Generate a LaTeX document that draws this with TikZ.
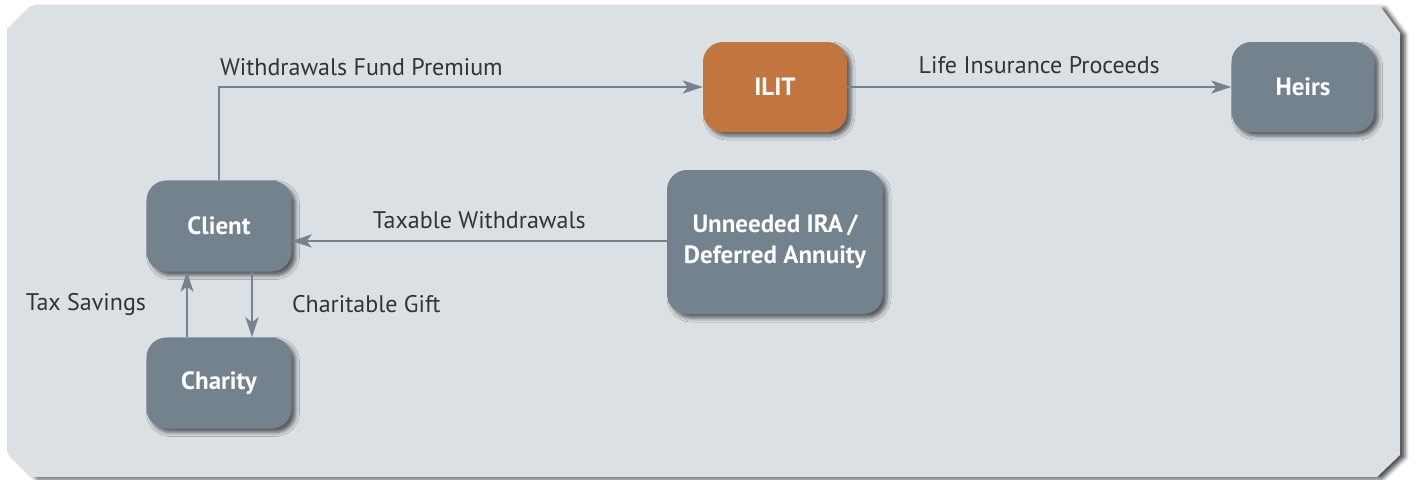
\documentclass[tikz,border=0pt]{standalone}
\usepackage{fontspec}
\setmainfont{PT Sans}
\usetikzlibrary{arrows.meta,shadows.blur}

\definecolor{panelgray}{HTML}{DBE0E4}
\definecolor{boxgray}{HTML}{74828E}
\definecolor{boxorange}{HTML}{C2753F}
\definecolor{linegray}{HTML}{74838F}
\definecolor{textgray}{HTML}{333333}

\begin{document}
\begin{tikzpicture}[x=1pt, y=-1pt, % 1単位 = 1pt、y軸は下向き
  box/.style={draw=none, fill=boxgray, rounded corners=20pt, text=white,
    font=\fontsize{25}{31}\selectfont\bfseries, align=center,
    blur shadow={shadow xshift=4pt, shadow yshift=-4pt, shadow opacity=60, shadow blur radius=4pt}},
  flow/.style={draw=linegray, line width=2pt, -{Stealth[length=20pt, width=13pt, inset=5pt]}},
  lbl/.style={text=textgray, font=\fontsize{24}{27}\selectfont, inner sep=0pt}]
  \useasboundingbox (0,0) rectangle (1415,479);
  % 背景パネル、角は面取り
  \fill[panelgray, blur shadow={shadow xshift=5pt, shadow yshift=-2pt, shadow opacity=70, shadow blur radius=4pt}]
    (7,29)--(30,6)--(1380,6)--(1400,33)--(1400,455)--(1377,477)--(32,477)--(7,452)--cycle;
  % ボックス
  \node[box, minimum width=145pt, minimum height=91pt] (client) at (219,226) {Client};
  \node[box, minimum width=145pt, minimum height=91pt] (charity) at (219,383) {Charity};
  \node[box, fill=boxorange, minimum width=144pt, minimum height=90pt] (ilit) at (775,87) {ILIT};
  \node[box, minimum width=143pt, minimum height=90pt] (heirs) at (1303,87) {Heirs};
  \node[box, minimum width=216pt, minimum height=144pt] (ira) at (775,242) {Unneeded IRA\,/\\Deferred Annuity};
  % 矢印
  \draw[flow] (client.north) |- node[lbl, pos=0.5, anchor=base west, yshift=12pt] {Withdrawals Fund Premium} (ilit.west);
  \draw[flow] (ilit.east) -- node[lbl, above=12pt] {Life Insurance Proceeds} (heirs.west);
  \draw[flow] (ira.west |- 0,241) -- node[lbl, above=11pt] {Taxable Withdrawals} (client.east |- 0,241);
  \draw[flow] (client.south -| 252,0) -- node[lbl, right=39pt] {Charitable Gift} (charity.north -| 252,0);
  \draw[flow] (charity.north -| 187,0) -- node[lbl, left=40pt] {Tax Savings} (client.south -| 187,0);
\end{tikzpicture}
\end{document}
